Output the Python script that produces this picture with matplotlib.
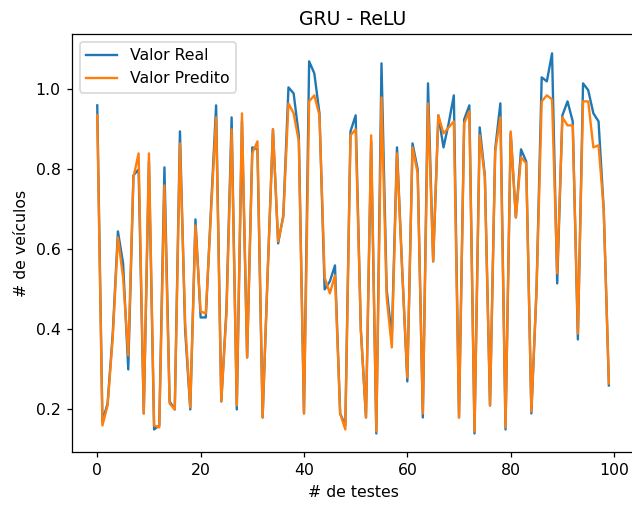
import numpy as np
import matplotlib
matplotlib.use('Agg')
import matplotlib.pyplot as plt

# valores (100 testes)
testes = list(range(100))

valor_real = [0.96, 0.17, 0.215, 0.39, 0.645, 0.565, 0.30, 0.785, 0.80, 0.19,
              0.82, 0.15, 0.16, 0.805, 0.22, 0.20, 0.895, 0.40, 0.20, 0.675,
              0.43, 0.43, 0.70, 0.96, 0.22, 0.45, 0.93, 0.20, 0.92, 0.33,
              0.855, 0.85, 0.18, 0.55, 0.90, 0.615, 0.685, 1.005, 0.99, 0.885,
              0.19, 1.07, 1.04, 0.94, 0.50, 0.52, 0.56, 0.19, 0.16, 0.895,
              0.935, 0.40, 0.18, 0.87, 0.14, 1.065, 0.50, 0.38, 0.855, 0.55,
              0.27, 0.865, 0.80, 0.18, 1.015, 0.57, 0.935, 0.855, 0.915, 0.985,
              0.18, 0.925, 0.96, 0.14, 0.905, 0.785, 0.21, 0.85, 0.965, 0.15,
              0.89, 0.68, 0.85, 0.82, 0.19, 0.50, 1.03, 1.02, 1.09, 0.515,
              0.935, 0.97, 0.92, 0.375, 1.015, 0.998, 0.94, 0.92, 0.70, 0.26]

valor_predito = [0.935, 0.16, 0.21, 0.38, 0.63, 0.53, 0.335, 0.78, 0.84, 0.19,
                 0.84, 0.16, 0.155, 0.76, 0.215, 0.20, 0.865, 0.42, 0.205, 0.66,
                 0.445, 0.44, 0.69, 0.93, 0.22, 0.44, 0.90, 0.21, 0.94, 0.33,
                 0.84, 0.87, 0.18, 0.55, 0.90, 0.62, 0.68, 0.965, 0.94, 0.87,
                 0.19, 0.97, 0.985, 0.935, 0.53, 0.49, 0.535, 0.19, 0.15, 0.885,
                 0.90, 0.40, 0.18, 0.885, 0.145, 0.98, 0.48, 0.355, 0.84, 0.55,
                 0.28, 0.855, 0.79, 0.19, 0.965, 0.57, 0.935, 0.89, 0.905, 0.92,
                 0.18, 0.915, 0.945, 0.145, 0.885, 0.78, 0.21, 0.845, 0.93, 0.155,
                 0.895, 0.68, 0.83, 0.815, 0.195, 0.50, 0.97, 0.985, 0.975, 0.54,
                 0.93, 0.91, 0.91, 0.39, 0.97, 0.97, 0.855, 0.86, 0.70, 0.265]

# the source figure looks like a default 6.4x4.8 figure shown ~1.13x larger,
# cropped so the right spine falls just outside the picture
DPI = 113.1
fig = plt.figure(figsize=(632 / DPI, 505 / DPI), dpi=DPI)
ax = fig.add_axes([0.1134, 0.104, 0.8905, 0.828])

ax.plot(testes, valor_real, label='Valor Real')
ax.plot(testes, valor_predito, label='Valor Predito')

ax.set_title('GRU - ReLU')
ax.set_xlabel('# de testes')
ax.set_ylabel('# de veículos')
ax.legend(loc='upper left')

fig.savefig('out.png', dpi=DPI)
